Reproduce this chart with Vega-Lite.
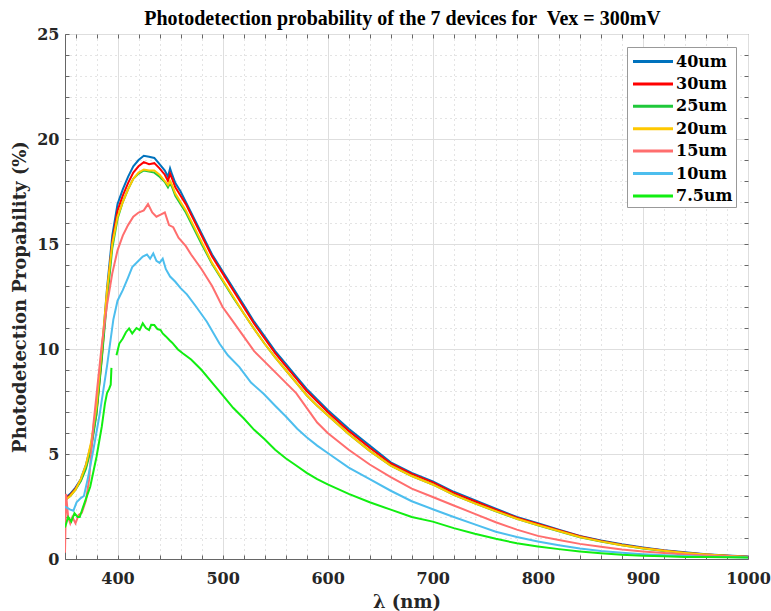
{
"$schema": "https://vega.github.io/schema/vega-lite/v6.json",
"width": 683, "height": 525,
"autosize": {"type": "none"},
"padding": {"left": 65, "top": 34, "right": 23, "bottom": 52},
"background": "white",
"config": {"view": {"stroke": "#666", "strokeWidth": 1}},
"title": {"text": "Photodetection probability of the 7 devices for\u00a0 Vex = 300mV", "font": "Liberation Serif", "fontSize": 20, "fontWeight": "bold", "anchor": "middle", "offset": 8, "dx": -4, "dy": 11, "color": "#000"},
"data": {"values": [
{"d":"40um","x":350,"y":2.9},{"d":"40um","x":355,"y":3.1},{"d":"40um","x":360,"y":3.4},{"d":"40um","x":365,"y":3.8},{"d":"40um","x":370,"y":4.5},{"d":"40um","x":375,"y":5.5},{"d":"40um","x":380,"y":7.1},{"d":"40um","x":385,"y":9.8},{"d":"40um","x":390,"y":12.9},{"d":"40um","x":395,"y":15.4},{"d":"40um","x":400,"y":16.9},{"d":"40um","x":405,"y":17.6},{"d":"40um","x":410,"y":18.2},{"d":"40um","x":415,"y":18.7},{"d":"40um","x":420,"y":19.0},{"d":"40um","x":425,"y":19.2},{"d":"40um","x":430,"y":19.15},{"d":"40um","x":435,"y":19.1},{"d":"40um","x":440,"y":18.8},{"d":"40um","x":445,"y":18.5},{"d":"40um","x":448,"y":18.2},{"d":"40um","x":450,"y":18.6},{"d":"40um","x":452,"y":18.3},{"d":"40um","x":455,"y":17.9},{"d":"40um","x":460,"y":17.5},{"d":"40um","x":465,"y":17.0},{"d":"40um","x":470,"y":16.5},{"d":"40um","x":480,"y":15.5},{"d":"40um","x":490,"y":14.5},{"d":"40um","x":500,"y":13.7},{"d":"40um","x":510,"y":12.9},{"d":"40um","x":520,"y":12.1},{"d":"40um","x":530,"y":11.3},{"d":"40um","x":540,"y":10.6},{"d":"40um","x":550,"y":9.9},{"d":"40um","x":560,"y":9.3},{"d":"40um","x":570,"y":8.7},{"d":"40um","x":580,"y":8.1},{"d":"40um","x":590,"y":7.6},{"d":"40um","x":600,"y":7.1},{"d":"40um","x":620,"y":6.2},{"d":"40um","x":640,"y":5.4},{"d":"40um","x":660,"y":4.6},{"d":"40um","x":680,"y":4.1},{"d":"40um","x":700,"y":3.7},{"d":"40um","x":720,"y":3.2},{"d":"40um","x":740,"y":2.8},{"d":"40um","x":760,"y":2.4},{"d":"40um","x":780,"y":2.0},{"d":"40um","x":800,"y":1.7},{"d":"40um","x":820,"y":1.4},{"d":"40um","x":840,"y":1.1},{"d":"40um","x":860,"y":0.88},{"d":"40um","x":880,"y":0.7},{"d":"40um","x":900,"y":0.55},{"d":"40um","x":920,"y":0.42},{"d":"40um","x":940,"y":0.32},{"d":"40um","x":960,"y":0.23},{"d":"40um","x":980,"y":0.17},{"d":"40um","x":1000,"y":0.12},
{"d":"30um","x":350,"y":2.85},{"d":"30um","x":355,"y":3.05},{"d":"30um","x":360,"y":3.35},{"d":"30um","x":365,"y":3.75},{"d":"30um","x":370,"y":4.4},{"d":"30um","x":375,"y":5.4},{"d":"30um","x":380,"y":7.0},{"d":"30um","x":385,"y":9.6},{"d":"30um","x":390,"y":12.6},{"d":"30um","x":395,"y":15.1},{"d":"30um","x":400,"y":16.6},{"d":"30um","x":405,"y":17.3},{"d":"30um","x":410,"y":17.9},{"d":"30um","x":415,"y":18.4},{"d":"30um","x":420,"y":18.7},{"d":"30um","x":425,"y":18.9},{"d":"30um","x":430,"y":18.8},{"d":"30um","x":435,"y":18.85},{"d":"30um","x":440,"y":18.6},{"d":"30um","x":445,"y":18.3},{"d":"30um","x":448,"y":18.0},{"d":"30um","x":450,"y":18.35},{"d":"30um","x":452,"y":18.1},{"d":"30um","x":455,"y":17.7},{"d":"30um","x":460,"y":17.3},{"d":"30um","x":465,"y":16.9},{"d":"30um","x":470,"y":16.4},{"d":"30um","x":480,"y":15.4},{"d":"30um","x":490,"y":14.4},{"d":"30um","x":500,"y":13.6},{"d":"30um","x":510,"y":12.8},{"d":"30um","x":520,"y":12.0},{"d":"30um","x":530,"y":11.2},{"d":"30um","x":540,"y":10.5},{"d":"30um","x":550,"y":9.8},{"d":"30um","x":560,"y":9.2},{"d":"30um","x":570,"y":8.6},{"d":"30um","x":580,"y":8.0},{"d":"30um","x":590,"y":7.5},{"d":"30um","x":600,"y":7.0},{"d":"30um","x":620,"y":6.1},{"d":"30um","x":640,"y":5.3},{"d":"30um","x":660,"y":4.55},{"d":"30um","x":680,"y":4.05},{"d":"30um","x":700,"y":3.65},{"d":"30um","x":720,"y":3.15},{"d":"30um","x":740,"y":2.75},{"d":"30um","x":760,"y":2.35},{"d":"30um","x":780,"y":1.97},{"d":"30um","x":800,"y":1.67},{"d":"30um","x":820,"y":1.37},{"d":"30um","x":840,"y":1.08},{"d":"30um","x":860,"y":0.86},{"d":"30um","x":880,"y":0.68},{"d":"30um","x":900,"y":0.53},{"d":"30um","x":920,"y":0.4},{"d":"30um","x":940,"y":0.3},{"d":"30um","x":960,"y":0.22},{"d":"30um","x":980,"y":0.16},{"d":"30um","x":1000,"y":0.11},
{"d":"25um","x":350,"y":2.8},{"d":"25um","x":355,"y":3.0},{"d":"25um","x":360,"y":3.3},{"d":"25um","x":365,"y":3.7},{"d":"25um","x":370,"y":4.3},{"d":"25um","x":375,"y":5.3},{"d":"25um","x":380,"y":6.9},{"d":"25um","x":385,"y":9.5},{"d":"25um","x":390,"y":12.3},{"d":"25um","x":395,"y":14.8},{"d":"25um","x":400,"y":16.2},{"d":"25um","x":405,"y":17.0},{"d":"25um","x":410,"y":17.6},{"d":"25um","x":415,"y":18.1},{"d":"25um","x":420,"y":18.35},{"d":"25um","x":425,"y":18.5},{"d":"25um","x":430,"y":18.45},{"d":"25um","x":435,"y":18.4},{"d":"25um","x":440,"y":18.2},{"d":"25um","x":445,"y":17.95},{"d":"25um","x":448,"y":17.7},{"d":"25um","x":450,"y":17.9},{"d":"25um","x":452,"y":17.7},{"d":"25um","x":455,"y":17.3},{"d":"25um","x":460,"y":16.9},{"d":"25um","x":465,"y":16.5},{"d":"25um","x":470,"y":16.0},{"d":"25um","x":480,"y":15.0},{"d":"25um","x":490,"y":14.05},{"d":"25um","x":500,"y":13.25},{"d":"25um","x":510,"y":12.45},{"d":"25um","x":520,"y":11.7},{"d":"25um","x":530,"y":10.95},{"d":"25um","x":540,"y":10.25},{"d":"25um","x":550,"y":9.6},{"d":"25um","x":560,"y":9.0},{"d":"25um","x":570,"y":8.4},{"d":"25um","x":580,"y":7.8},{"d":"25um","x":590,"y":7.3},{"d":"25um","x":600,"y":6.85},{"d":"25um","x":620,"y":5.95},{"d":"25um","x":640,"y":5.15},{"d":"25um","x":660,"y":4.45},{"d":"25um","x":680,"y":3.95},{"d":"25um","x":700,"y":3.55},{"d":"25um","x":720,"y":3.05},{"d":"25um","x":740,"y":2.65},{"d":"25um","x":760,"y":2.27},{"d":"25um","x":780,"y":1.91},{"d":"25um","x":800,"y":1.6},{"d":"25um","x":820,"y":1.32},{"d":"25um","x":840,"y":1.04},{"d":"25um","x":860,"y":0.83},{"d":"25um","x":880,"y":0.65},{"d":"25um","x":900,"y":0.5},{"d":"25um","x":920,"y":0.38},{"d":"25um","x":940,"y":0.28},{"d":"25um","x":960,"y":0.2},{"d":"25um","x":980,"y":0.14},{"d":"25um","x":1000,"y":0.1},
{"d":"20um","x":350,"y":2.8},{"d":"20um","x":355,"y":3.0},{"d":"20um","x":360,"y":3.3},{"d":"20um","x":365,"y":3.8},{"d":"20um","x":370,"y":4.5},{"d":"20um","x":375,"y":5.6},{"d":"20um","x":380,"y":7.3},{"d":"20um","x":385,"y":10.0},{"d":"20um","x":390,"y":12.8},{"d":"20um","x":395,"y":15.0},{"d":"20um","x":400,"y":16.3},{"d":"20um","x":405,"y":17.0},{"d":"20um","x":410,"y":17.6},{"d":"20um","x":415,"y":18.1},{"d":"20um","x":420,"y":18.4},{"d":"20um","x":425,"y":18.55},{"d":"20um","x":430,"y":18.5},{"d":"20um","x":435,"y":18.5},{"d":"20um","x":440,"y":18.3},{"d":"20um","x":445,"y":18.0},{"d":"20um","x":448,"y":17.8},{"d":"20um","x":450,"y":18.0},{"d":"20um","x":452,"y":17.8},{"d":"20um","x":455,"y":17.4},{"d":"20um","x":460,"y":17.0},{"d":"20um","x":465,"y":16.6},{"d":"20um","x":470,"y":16.1},{"d":"20um","x":480,"y":15.1},{"d":"20um","x":490,"y":14.1},{"d":"20um","x":500,"y":13.3},{"d":"20um","x":510,"y":12.5},{"d":"20um","x":520,"y":11.7},{"d":"20um","x":530,"y":10.95},{"d":"20um","x":540,"y":10.25},{"d":"20um","x":550,"y":9.6},{"d":"20um","x":560,"y":9.0},{"d":"20um","x":570,"y":8.4},{"d":"20um","x":580,"y":7.8},{"d":"20um","x":590,"y":7.3},{"d":"20um","x":600,"y":6.85},{"d":"20um","x":620,"y":5.95},{"d":"20um","x":640,"y":5.15},{"d":"20um","x":660,"y":4.45},{"d":"20um","x":680,"y":3.95},{"d":"20um","x":700,"y":3.55},{"d":"20um","x":720,"y":3.05},{"d":"20um","x":740,"y":2.65},{"d":"20um","x":760,"y":2.28},{"d":"20um","x":780,"y":1.92},{"d":"20um","x":800,"y":1.62},{"d":"20um","x":820,"y":1.33},{"d":"20um","x":840,"y":1.05},{"d":"20um","x":860,"y":0.84},{"d":"20um","x":880,"y":0.66},{"d":"20um","x":900,"y":0.51},{"d":"20um","x":920,"y":0.39},{"d":"20um","x":940,"y":0.29},{"d":"20um","x":960,"y":0.21},{"d":"20um","x":980,"y":0.15},{"d":"20um","x":1000,"y":0.1},
{"d":"15um","x":350,"y":0.3},{"d":"15um","x":351,"y":3.1},{"d":"15um","x":353,"y":2.0},{"d":"15um","x":355,"y":1.7},{"d":"15um","x":357,"y":2.0},{"d":"15um","x":360,"y":1.7},{"d":"15um","x":363,"y":2.1},{"d":"15um","x":366,"y":2.2},{"d":"15um","x":370,"y":2.8},{"d":"15um","x":373,"y":3.8},{"d":"15um","x":377,"y":6.4},{"d":"15um","x":380,"y":7.8},{"d":"15um","x":385,"y":10.2},{"d":"15um","x":390,"y":12.1},{"d":"15um","x":395,"y":13.6},{"d":"15um","x":400,"y":14.7},{"d":"15um","x":405,"y":15.4},{"d":"15um","x":410,"y":15.9},{"d":"15um","x":415,"y":16.3},{"d":"15um","x":420,"y":16.5},{"d":"15um","x":425,"y":16.6},{"d":"15um","x":429,"y":16.9},{"d":"15um","x":433,"y":16.5},{"d":"15um","x":437,"y":16.3},{"d":"15um","x":441,"y":16.4},{"d":"15um","x":445,"y":16.5},{"d":"15um","x":449,"y":15.9},{"d":"15um","x":453,"y":15.8},{"d":"15um","x":458,"y":15.3},{"d":"15um","x":465,"y":14.9},{"d":"15um","x":470,"y":14.5},{"d":"15um","x":480,"y":13.8},{"d":"15um","x":490,"y":13.0},{"d":"15um","x":500,"y":12.0},{"d":"15um","x":510,"y":11.3},{"d":"15um","x":520,"y":10.6},{"d":"15um","x":530,"y":9.9},{"d":"15um","x":540,"y":9.4},{"d":"15um","x":550,"y":8.9},{"d":"15um","x":560,"y":8.4},{"d":"15um","x":570,"y":7.9},{"d":"15um","x":580,"y":7.2},{"d":"15um","x":590,"y":6.5},{"d":"15um","x":600,"y":6.0},{"d":"15um","x":620,"y":5.2},{"d":"15um","x":640,"y":4.5},{"d":"15um","x":660,"y":3.9},{"d":"15um","x":680,"y":3.35},{"d":"15um","x":700,"y":2.95},{"d":"15um","x":720,"y":2.55},{"d":"15um","x":740,"y":2.15},{"d":"15um","x":760,"y":1.75},{"d":"15um","x":780,"y":1.4},{"d":"15um","x":800,"y":1.1},{"d":"15um","x":820,"y":0.9},{"d":"15um","x":840,"y":0.72},{"d":"15um","x":860,"y":0.58},{"d":"15um","x":880,"y":0.45},{"d":"15um","x":900,"y":0.36},{"d":"15um","x":920,"y":0.28},{"d":"15um","x":940,"y":0.22},{"d":"15um","x":960,"y":0.17},{"d":"15um","x":980,"y":0.13},{"d":"15um","x":1000,"y":0.1},
{"d":"10um","x":350,"y":2.5},{"d":"10um","x":355,"y":2.35},{"d":"10um","x":358,"y":2.3},{"d":"10um","x":361,"y":2.7},{"d":"10um","x":365,"y":2.9},{"d":"10um","x":368,"y":3.0},{"d":"10um","x":372,"y":3.9},{"d":"10um","x":377,"y":5.2},{"d":"10um","x":383,"y":6.9},{"d":"10um","x":390,"y":9.2},{"d":"10um","x":396,"y":11.4},{"d":"10um","x":400,"y":12.3},{"d":"10um","x":405,"y":12.8},{"d":"10um","x":410,"y":13.4},{"d":"10um","x":414,"y":13.9},{"d":"10um","x":420,"y":14.2},{"d":"10um","x":424,"y":14.4},{"d":"10um","x":428,"y":14.5},{"d":"10um","x":431,"y":14.3},{"d":"10um","x":434,"y":14.55},{"d":"10um","x":437,"y":14.2},{"d":"10um","x":440,"y":14.1},{"d":"10um","x":443,"y":14.3},{"d":"10um","x":446,"y":13.8},{"d":"10um","x":450,"y":13.45},{"d":"10um","x":455,"y":13.2},{"d":"10um","x":460,"y":12.9},{"d":"10um","x":466,"y":12.6},{"d":"10um","x":475,"y":12.0},{"d":"10um","x":485,"y":11.3},{"d":"10um","x":497,"y":10.26},{"d":"10um","x":505,"y":9.7},{"d":"10um","x":516,"y":9.14},{"d":"10um","x":527,"y":8.4},{"d":"10um","x":539,"y":7.87},{"d":"10um","x":550,"y":7.3},{"d":"10um","x":560,"y":6.8},{"d":"10um","x":571,"y":6.2},{"d":"10um","x":580,"y":5.8},{"d":"10um","x":590,"y":5.4},{"d":"10um","x":600,"y":5.05},{"d":"10um","x":620,"y":4.35},{"d":"10um","x":640,"y":3.8},{"d":"10um","x":660,"y":3.25},{"d":"10um","x":680,"y":2.75},{"d":"10um","x":700,"y":2.37},{"d":"10um","x":720,"y":2.0},{"d":"10um","x":740,"y":1.65},{"d":"10um","x":760,"y":1.3},{"d":"10um","x":780,"y":1.05},{"d":"10um","x":800,"y":0.83},{"d":"10um","x":820,"y":0.66},{"d":"10um","x":840,"y":0.5},{"d":"10um","x":860,"y":0.38},{"d":"10um","x":880,"y":0.3},{"d":"10um","x":900,"y":0.23},{"d":"10um","x":920,"y":0.18},{"d":"10um","x":940,"y":0.14},{"d":"10um","x":960,"y":0.11},{"d":"10um","x":980,"y":0.09},{"d":"10um","x":1000,"y":0.07},
{"d":"7.5um","s":1,"x":350,"y":1.5},{"d":"7.5um","s":1,"x":353,"y":2.0},{"d":"7.5um","s":1,"x":356,"y":1.78},{"d":"7.5um","s":1,"x":359,"y":2.18},{"d":"7.5um","s":1,"x":362,"y":2.0},{"d":"7.5um","s":1,"x":364,"y":2.0},{"d":"7.5um","s":1,"x":366,"y":2.3},{"d":"7.5um","s":1,"x":369,"y":2.73},{"d":"7.5um","s":1,"x":374,"y":3.44},{"d":"7.5um","s":1,"x":380,"y":4.87},{"d":"7.5um","s":1,"x":385,"y":6.3},{"d":"7.5um","s":1,"x":388,"y":7.4},{"d":"7.5um","s":1,"x":390,"y":7.9},{"d":"7.5um","s":1,"x":392,"y":8.1},{"d":"7.5um","s":1,"x":393.5,"y":8.3},{"d":"7.5um","s":1,"x":394.2,"y":9.1},
{"d":"7.5um","s":2,"x":399,"y":9.7},{"d":"7.5um","s":2,"x":401.7,"y":10.26},{"d":"7.5um","s":2,"x":405,"y":10.5},{"d":"7.5um","s":2,"x":408,"y":10.8},{"d":"7.5um","s":2,"x":411,"y":10.98},{"d":"7.5um","s":2,"x":414,"y":10.74},{"d":"7.5um","s":2,"x":418,"y":11.0},{"d":"7.5um","s":2,"x":421,"y":10.9},{"d":"7.5um","s":2,"x":424,"y":11.22},{"d":"7.5um","s":2,"x":427,"y":11.0},{"d":"7.5um","s":2,"x":430,"y":10.9},{"d":"7.5um","s":2,"x":432,"y":11.15},{"d":"7.5um","s":2,"x":435,"y":11.14},{"d":"7.5um","s":2,"x":438,"y":10.95},{"d":"7.5um","s":2,"x":441,"y":10.9},{"d":"7.5um","s":2,"x":443,"y":10.74},{"d":"7.5um","s":2,"x":446,"y":10.6},{"d":"7.5um","s":2,"x":449.5,"y":10.42},{"d":"7.5um","s":2,"x":452,"y":10.3},{"d":"7.5um","s":2,"x":457.5,"y":9.98},{"d":"7.5um","s":2,"x":462,"y":9.8},{"d":"7.5um","s":2,"x":470,"y":9.5},{"d":"7.5um","s":2,"x":480,"y":9.0},{"d":"7.5um","s":2,"x":490,"y":8.4},{"d":"7.5um","s":2,"x":500,"y":7.8},{"d":"7.5um","s":2,"x":510,"y":7.2},{"d":"7.5um","s":2,"x":520,"y":6.7},{"d":"7.5um","s":2,"x":530,"y":6.15},{"d":"7.5um","s":2,"x":540,"y":5.7},{"d":"7.5um","s":2,"x":550,"y":5.2},{"d":"7.5um","s":2,"x":560,"y":4.8},{"d":"7.5um","s":2,"x":570,"y":4.45},{"d":"7.5um","s":2,"x":580,"y":4.1},{"d":"7.5um","s":2,"x":590,"y":3.8},{"d":"7.5um","s":2,"x":600,"y":3.55},{"d":"7.5um","s":2,"x":620,"y":3.1},{"d":"7.5um","s":2,"x":640,"y":2.7},{"d":"7.5um","s":2,"x":660,"y":2.35},{"d":"7.5um","s":2,"x":680,"y":2.0},{"d":"7.5um","s":2,"x":700,"y":1.78},{"d":"7.5um","s":2,"x":720,"y":1.47},{"d":"7.5um","s":2,"x":740,"y":1.2},{"d":"7.5um","s":2,"x":760,"y":0.96},{"d":"7.5um","s":2,"x":780,"y":0.75},{"d":"7.5um","s":2,"x":800,"y":0.6},{"d":"7.5um","s":2,"x":820,"y":0.47},{"d":"7.5um","s":2,"x":840,"y":0.36},{"d":"7.5um","s":2,"x":860,"y":0.27},{"d":"7.5um","s":2,"x":880,"y":0.2},{"d":"7.5um","s":2,"x":900,"y":0.16},{"d":"7.5um","s":2,"x":920,"y":0.13},{"d":"7.5um","s":2,"x":940,"y":0.1},{"d":"7.5um","s":2,"x":960,"y":0.09},{"d":"7.5um","s":2,"x":980,"y":0.08},{"d":"7.5um","s":2,"x":1000,"y":0.07}
]},
"layer": [
{
"mark": {"type": "line", "strokeWidth": 2, "clip": true},
"encoding": {
"x": {"field": "x", "type": "quantitative", "scale": {"domain": [350, 1000], "nice": false, "zero": false},
"axis": {"orient": "bottom", "title": "λ (nm)", "format": "d", "values": [360,380,400,420,440,460,480,500,520,540,560,580,600,620,640,660,680,700,720,740,760,780,800,820,840,860,880,900,920,940,960,980,1000],
"labelExpr": "datum.value % 100 === 0 ? datum.label : ''", "labelOverlap": false, "labelBound": false, "labelFlush": false,
"labelFont": "DejaVu Serif", "labelFontSize": 16, "labelFontWeight": "bold", "labelColor": "#262626", "labelPadding": 15,
"titleFont": "DejaVu Serif", "titleFontSize": 18, "titleFontWeight": "bold", "titleColor": "#262626", "titlePadding": 7,
"grid": true, "gridColor": {"condition": {"test": "datum.value % 100 === 0", "value": "#dedede"}, "value": "#c8c8c8"}, "gridDash": {"condition": {"test": "datum.value % 100 === 0", "value": []}, "value": [1, 4]},
"domainColor": "#666", "tickColor": "#666", "tickSize": -4}},
"y": {"field": "y", "type": "quantitative", "scale": {"domain": [0, 25], "nice": false, "zero": true},
"axis": {"orient": "left", "title": "Photodetection Propability (%)", "values": [0,1,2,3,4,5,6,7,8,9,10,11,12,13,14,15,16,17,18,19,20,21,22,23,24,25],
"labelExpr": "datum.value % 5 === 0 ? datum.label : ''", "labelOverlap": false, "labelBound": false, "labelFlush": false,
"labelFont": "DejaVu Serif", "labelFontSize": 16, "labelFontWeight": "bold", "labelColor": "#262626", "labelPadding": 10,
"titleFont": "DejaVu Serif", "titleFontSize": 18, "titleFontWeight": "bold", "titleColor": "#262626", "titlePadding": 7,
"grid": true, "gridColor": {"condition": {"test": "datum.value % 5 === 0", "value": "#dedede"}, "value": "#c8c8c8"}, "gridDash": {"condition": {"test": "datum.value % 5 === 0", "value": []}, "value": [1, 4]},
"domainColor": "#666", "tickColor": "#666", "tickSize": -4}},
"color": {"field": "d", "type": "nominal",
"scale": {"domain": ["40um","30um","25um","20um","15um","10um","7.5um"], "range": ["#0072BD","#FF0000","#1FC83A","#FFC800","#FF6E6E","#4DBEEE","#11EE11"]},
"legend": {"orient": "none", "legendX": 562, "legendY": 13, "title": null, "symbolType": "M-0.85,0H3.15", "symbolSize": 400, "symbolStrokeWidth": 3,
"labelFont": "DejaVu Serif", "labelFontSize": 16, "labelFontWeight": "bold", "labelColor": "#000", "labelOffset": 23, "rowPadding": 2.4, "padding": 3,
"strokeColor": "#999", "fillColor": "#fff"}},
"detail": {"field": "s", "type": "nominal"}
}
},
{
"mark": {"type": "line", "strokeOpacity": 0, "clip": true},
"encoding": {
"x": {"field": "x", "type": "quantitative", "axis": {"orient": "top", "title": null, "labels": false, "grid": false, "domain": false, "tickColor": "#666", "tickSize": -4, "values": [360,380,400,420,440,460,480,500,520,540,560,580,600,620,640,660,680,700,720,740,760,780,800,820,840,860,880,900,920,940,960,980]}},
"y": {"field": "y", "type": "quantitative", "axis": {"orient": "right", "title": null, "labels": false, "grid": false, "domain": false, "tickColor": "#666", "tickSize": -4, "values": [1,2,3,4,5,6,7,8,9,10,11,12,13,14,15,16,17,18,19,20,21,22,23,24]}},
"detail": {"field": "d", "type": "nominal"}
}
}
],
"resolve": {"axis": {"x": "independent", "y": "independent"}}
}
